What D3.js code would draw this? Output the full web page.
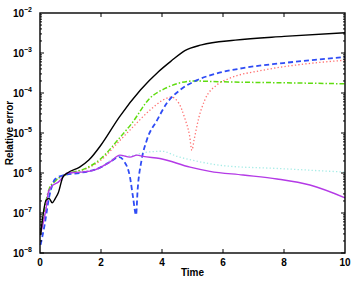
<!DOCTYPE html>
<html>
<head>
<meta charset="utf-8">
<script src="https://cdn.jsdelivr.net/npm/d3@7"></script>
<style>
  body { margin: 0; background: #fff; }
  text { font-family: "Liberation Sans", Arial, sans-serif; font-weight: bold; fill: #000; }
</style>
</head>
<body>
<div id="chart"></div>
<script>
// data (time, relative error)
const blackT = [0.02, 0.2, 0.3, 0.4, 0.5, 0.6, 0.75, 0.9, 1.3, 1.6, 2.0, 2.6, 3.3, 3.9, 4.3, 4.75, 5.3, 6.4, 8, 10];
const blackV = [2.8e-8, 2.1e-7, 2.3e-7, 1.8e-7, 2.3e-7, 3.2e-7, 7.9e-7, 1.0e-6, 1.4e-6, 2.1e-6, 5.0e-6, 2.5e-5, 1.2e-4, 3.5e-4, 6.3e-4, 1.15e-3, 1.6e-3, 2.1e-3, 2.6e-3, 3.2e-3];

const greenT = [0.02, 0.15, 0.3, 0.5, 1.0, 1.5, 2.0, 2.6, 3.0, 3.6, 4.1, 4.6, 5.0, 6, 8, 10];
const greenV = [3.2e-8, 1.3e-7, 4.0e-7, 6.3e-7, 1.0e-6, 1.3e-6, 2.3e-6, 7.4e-6, 1.7e-5, 7.4e-5, 1.3e-4, 1.8e-4, 2.0e-4, 1.9e-4, 1.8e-4, 1.7e-4];

const redT = [0.02, 0.15, 0.3, 0.5, 1.0, 1.5, 2.0, 2.6, 3.0, 3.6, 4.1, 4.3, 4.55, 4.75, 4.9, 4.98, 5.05, 5.2, 5.4, 5.8, 6.2, 7.3, 8.4, 10];
const redV = [3.2e-8, 1.3e-7, 4.0e-7, 6.3e-7, 1.0e-6, 1.26e-6, 2.1e-6, 6.3e-6, 1.3e-5, 3.7e-5, 7.1e-5, 7.9e-5, 5.6e-5, 2.3e-5, 8.9e-6, 3.7e-6, 6.6e-6, 2.3e-5, 6.6e-5, 1.6e-4, 2.3e-4, 3.7e-4, 5.0e-4, 6.6e-4];

const blueT = [0.02, 0.15, 0.3, 0.5, 0.8, 1.3, 2.0, 2.3, 2.6, 2.75, 2.95, 3.05, 3.15, 3.2, 3.33, 3.5, 3.84, 4.16, 4.6, 5.15, 5.6, 6.65, 7.97, 10];
const blueV = [1.6e-8, 5.0e-8, 2.5e-7, 7.1e-7, 8.9e-7, 1.0e-6, 1.4e-6, 1.9e-6, 2.5e-6, 2.0e-6, 7.9e-7, 2.5e-7, 8.9e-8, 3.7e-7, 2.1e-6, 6.6e-6, 2.1e-5, 5.6e-5, 1.2e-4, 2.1e-4, 2.8e-4, 4.2e-4, 5.6e-4, 7.9e-4];

const purpleT = [0.03, 0.2, 0.27, 0.37, 0.6, 0.9, 1.34, 1.8, 2.13, 2.3, 2.62, 2.95, 3.18, 3.38, 3.93, 4.92, 5.57, 6.66, 7.77, 8.85, 10];
const purpleV = [3.3e-8, 1.3e-7, 3.2e-7, 4.5e-7, 5.9e-7, 1.0e-6, 1.05e-6, 1.2e-6, 1.6e-6, 1.9e-6, 2.8e-6, 2.5e-6, 2.8e-6, 2.6e-6, 2.3e-6, 1.4e-6, 1.1e-6, 8.9e-7, 7.1e-7, 5.0e-7, 2.4e-7];

const cyanT = [0.03, 0.2, 0.4, 0.9, 1.8, 2.6, 3.0, 3.38, 4.0, 4.5, 5.25, 6.1, 7.77, 10];
const cyanV = [3.3e-8, 1.3e-7, 4.5e-7, 1.0e-6, 1.2e-6, 2.6e-6, 2.7e-6, 3.2e-6, 3.5e-6, 2.6e-6, 1.9e-6, 1.5e-6, 1.3e-6, 1.05e-6];

const xTicks = [0, 2, 4, 6, 8, 10];
const yExps = [-8, -7, -6, -5, -4, -3, -2];

const width = 354, height = 281;
const margin = {top: 13, right: 9, bottom: 28, left: 40};

const svg = d3.select('#chart').append('svg')
    .attr('width', width)
    .attr('height', height);

const x = d3.scaleLinear().domain([0, 10]).range([margin.left, width - margin.right]);
const y = d3.scaleLog().domain([1e-8, 1e-2]).range([height - margin.bottom, margin.top]);

const series = [
  {t: cyanT, v: cyanV, color: '#a6ece6', w: 1.3, dash: '1.3,2.2'},
  {t: redT, v: redV, color: '#ff6f6f', w: 1.3, dash: '1.3,2.2'},
  {t: greenT, v: greenV, color: '#5fdc10', w: 1.5, dash: '5,2,1.5,2'},
  {t: blueT, v: blueV, color: '#2f4cf5', w: 1.8, dash: '5,3'},
  {t: purpleT, v: purpleV, color: '#b43ae6', w: 1.4, dash: null},
  {t: blackT, v: blackV, color: '#000', w: 1.4, dash: null}
];

const line = d3.line()
    .x(d => x(d[0]))
    .y(d => y(d[1]))
    .curve(d3.curveMonotoneX);

series.forEach(s => {
  svg.append('path')
      .datum(d3.zip(s.t, s.v))
      .attr('d', line)
      .attr('fill', 'none')
      .attr('stroke', s.color)
      .attr('stroke-width', s.w)
      .attr('stroke-dasharray', s.dash);
});

// ticks drawn inside the box, matlab style
const x0 = x(0), x1 = x(10), y0 = y(1e-8), y1 = y(1e-2);
const tickG = svg.append('g').attr('stroke', '#000').attr('stroke-width', 1);

xTicks.slice(1, -1).forEach(t => {
  tickG.append('line').attr('x1', x(t)).attr('x2', x(t)).attr('y1', y0).attr('y2', y0 - 4);
  tickG.append('line').attr('x1', x(t)).attr('x2', x(t)).attr('y1', y1).attr('y2', y1 + 4);
});

yExps.forEach(e => {
  if (e < -2) {
    for (let m = 1; m < 10; m++) {
      const v = m * Math.pow(10, e);
      const len = m === 1 ? 4 : 2;
      tickG.append('line').attr('x1', x0).attr('x2', x0 + len).attr('y1', y(v)).attr('y2', y(v));
      tickG.append('line').attr('x1', x1).attr('x2', x1 - len).attr('y1', y(v)).attr('y2', y(v));
    }
  }
});

svg.append('rect')
    .attr('x', x0).attr('y', y1)
    .attr('width', x1 - x0).attr('height', y0 - y1)
    .attr('fill', 'none')
    .attr('stroke', '#000')
    .attr('stroke-width', 1.4);

// tick labels
svg.selectAll('.xlab')
  .data(xTicks)
  .enter().append('text')
    .attr('x', d => x(d))
    .attr('y', y0 + 13)
    .attr('text-anchor', 'middle')
    .style('font-size', '10px')
    .text(d => d);

yExps.forEach(e => {
  const t = svg.append('text')
      .attr('x', x0 - 8)
      .attr('y', y(Math.pow(10, e)) + 4)
      .attr('text-anchor', 'end')
      .style('font-size', '10px');
  t.append('tspan').text('10');
  t.append('tspan').attr('dy', -5).style('font-size', '7px').text('\u2212' + (-e));
});

svg.append('text')
    .attr('x', (x0 + x1) / 2)
    .attr('y', 276)
    .attr('text-anchor', 'middle')
    .style('font-size', '10px')
    .text('Time');

svg.append('text')
    .attr('transform', `translate(13,${(y0 + y1) / 2}) rotate(-90)`)
    .attr('text-anchor', 'middle')
    .style('font-size', '10px')
    .text('Relative error');
</script>
</body>
</html>
